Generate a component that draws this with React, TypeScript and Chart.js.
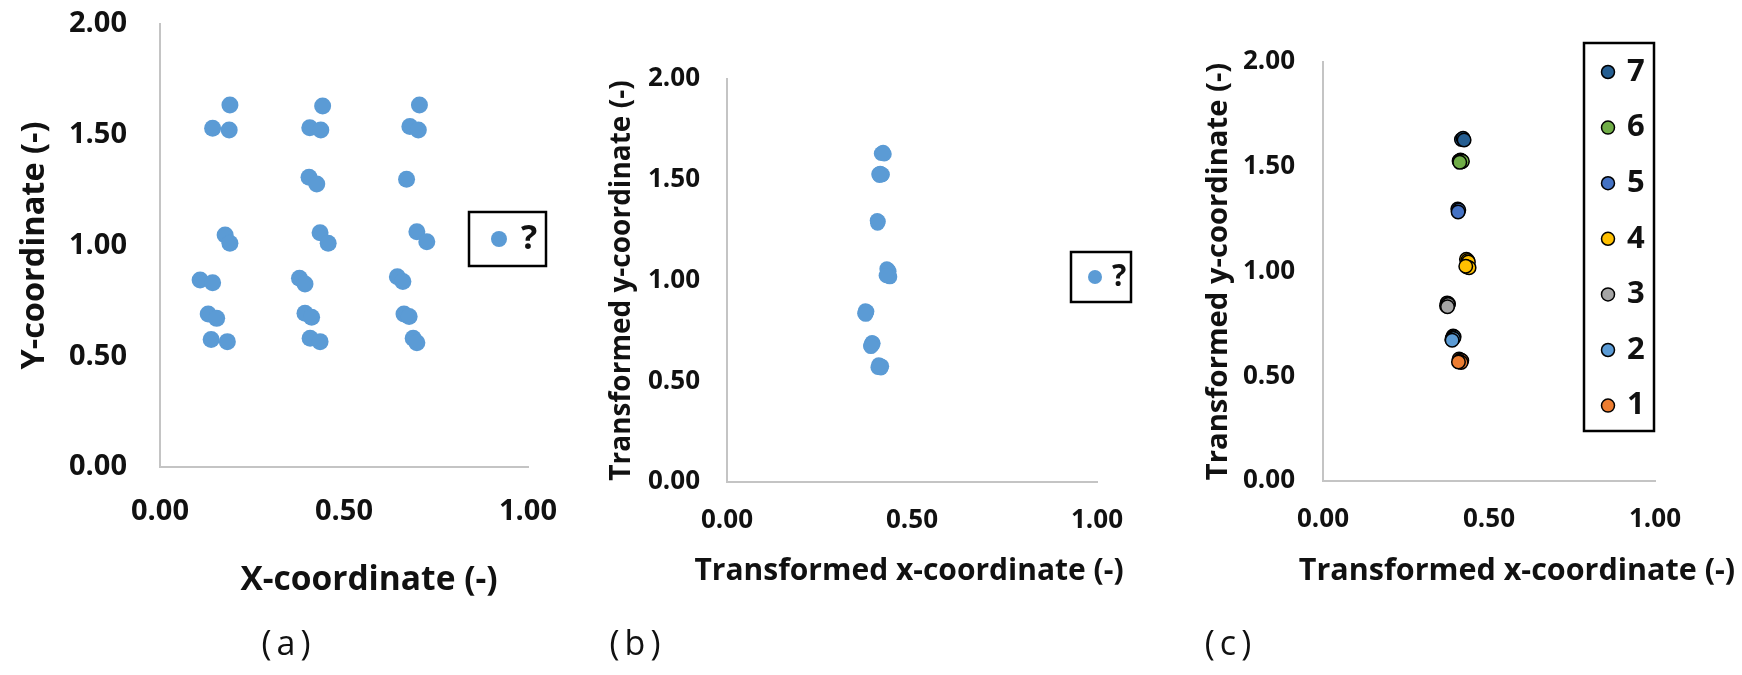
import React, { useEffect, useRef } from 'react';
import { Chart, registerables } from 'chart.js';

Chart.register(...registerables);

const FONT = "'Open Sans', 'DejaVu Sans', sans-serif";
const TICK_FONT = "'Open Sans', 'DejaVu Sans', sans-serif";
const AXIS_COLOR = '#C4C4C4';
const TEXT_COLOR = '#111111';

// ---------- data ----------
const xTickValues = [0, 0.5, 1];
const yTickValues = [0, 0.5, 1, 1.5, 2];

// panel (a): original coordinates
const aLabel = '?';
const aX = [
  0.190, 0.143, 0.188, 0.177, 0.190, 0.109, 0.143, 0.131, 0.154, 0.139, 0.183,
  0.442, 0.407, 0.437, 0.405, 0.426, 0.435, 0.457, 0.379, 0.394, 0.394, 0.412, 0.408, 0.435,
  0.705, 0.679, 0.702, 0.670, 0.698, 0.725, 0.645, 0.660, 0.663, 0.677, 0.688, 0.698,
];
const aY = [
  1.634, 1.529, 1.521, 1.047, 1.010, 0.844, 0.832, 0.691, 0.671, 0.576, 0.566,
  1.630, 1.532, 1.521, 1.308, 1.278, 1.058, 1.010, 0.852, 0.826, 0.694, 0.676, 0.581, 0.566,
  1.634, 1.537, 1.521, 1.299, 1.062, 1.017, 0.859, 0.837, 0.691, 0.679, 0.581, 0.561,
];

// panels (b) and (c): transformed coordinates, grouped 1..7
const groupLabels = ['1', '2', '3', '4', '5', '6', '7'];
const groupColors = ['#ED7D31', '#5B9BD5', '#A5A5A5', '#FFC000', '#4472C4', '#70AD47', '#255E91'];
const g1X = [0.410, 0.414, 0.418, 0.412, 0.416, 0.408];
const g1Y = [0.582, 0.578, 0.575, 0.570, 0.566, 0.568];
const g2X = [0.392, 0.395, 0.390, 0.388, 0.393, 0.389];
const g2Y = [0.692, 0.688, 0.684, 0.676, 0.680, 0.672];
const g3X = [0.374, 0.378, 0.376, 0.372, 0.377, 0.375];
const g3Y = [0.850, 0.846, 0.840, 0.836, 0.842, 0.832];
const g4X = [0.432, 0.436, 0.438, 0.434, 0.440, 0.430];
const g4Y = [1.058, 1.052, 1.045, 1.022, 1.018, 1.025];
const g5X = [0.406, 0.409, 0.407];
const g5Y = [1.298, 1.293, 1.284];
const g6X = [0.410, 0.414, 0.418, 0.416, 0.420, 0.412];
const g6Y = [1.528, 1.532, 1.524, 1.530, 1.526, 1.521];
const g7X = [0.417, 0.422, 0.425];
const g7Y = [1.630, 1.636, 1.628];

const groupXs = [g1X, g2X, g3X, g4X, g5X, g6X, g7X];
const groupYs = [g1Y, g2Y, g3Y, g4Y, g5Y, g6Y, g7Y];

const toPoints = (xs: number[], ys: number[]) => xs.map((x, i) => ({ x, y: ys[i] }));

// ---------- plugins ----------
// boxed legend drawn from the datasets
const boxLegend = {
  id: 'boxLegend',
  afterDraw(chart: any, _args: any, opts: any) {
    if (!opts || !opts.display) return;
    const ctx = chart.ctx as CanvasRenderingContext2D;
    ctx.save();
    ctx.lineWidth = opts.borderWidth;
    ctx.strokeStyle = '#000';
    ctx.strokeRect(opts.left, opts.top, opts.width, opts.height);
    const list = chart.data.datasets.slice();
    if (opts.reverse) list.reverse();
    list.forEach((d: any, k: number) => {
      const y = opts.firstY + k * opts.rowGap;
      ctx.beginPath();
      ctx.arc(opts.markerX, y, opts.markerRadius, 0, Math.PI * 2);
      ctx.fillStyle = d.backgroundColor;
      ctx.fill();
      if (d.borderWidth) {
        ctx.lineWidth = d.borderWidth;
        ctx.strokeStyle = d.borderColor;
        ctx.stroke();
      }
      ctx.fillStyle = TEXT_COLOR;
      ctx.font = `bold ${opts.fontSize}px ${FONT}`;
      ctx.textBaseline = 'middle';
      ctx.textAlign = 'left';
      ctx.fillText(d.label, opts.textX, y + opts.textDy);
    });
    ctx.restore();
  },
};

// x-axis title, centred under the plot with a small horizontal offset (as in the source figure)
const xAxisTitle = {
  id: 'xAxisTitle',
  afterDraw(chart: any, _args: any, opts: any) {
    if (!opts || !opts.text) return;
    const ctx = chart.ctx as CanvasRenderingContext2D;
    const area = chart.chartArea;
    ctx.save();
    ctx.fillStyle = TEXT_COLOR;
    ctx.font = `bold ${opts.size}px ${FONT}`;
    ctx.textAlign = 'center';
    ctx.textBaseline = 'middle';
    ctx.fillText(opts.text, (area.left + area.right) / 2 + opts.dx, opts.y);
    ctx.restore();
  },
};

const clearPadding = (s: any) => {
  s.paddingTop = 0;
  s.paddingBottom = 0;
  s.paddingLeft = 0;
  s.paddingRight = 0;
};

// ---------- scale helpers ----------
function xScale(tickSize: number, tickPad: number, height: number) {
  return {
    type: 'linear',
    position: 'bottom',
    min: 0,
    max: 1,
    afterBuildTicks: (s: any) => {
      s.ticks = xTickValues.map((v) => ({ value: v }));
    },
    afterFit: (s: any) => {
      s.height = height;
      clearPadding(s);
    },
    grid: { display: false, drawTicks: false },
    border: { display: true, color: AXIS_COLOR, width: 2 },
    ticks: {
      autoSkip: false,
      maxRotation: 0,
      padding: tickPad,
      color: TEXT_COLOR,
      font: { family: TICK_FONT, size: tickSize, weight: 'bold' },
      callback: (v: any) => Number(v).toFixed(2),
    },
    title: { display: false },
  };
}

function yScale(tickSize: number, tickPad: number, title: string, titleSize: number, titlePadTop: number, width: number) {
  return {
    type: 'linear',
    position: 'left',
    min: 0,
    max: 2,
    afterBuildTicks: (s: any) => {
      s.ticks = yTickValues.map((v) => ({ value: v }));
    },
    afterFit: (s: any) => {
      s.width = width;
      clearPadding(s);
    },
    grid: { display: false, drawTicks: false },
    border: { display: true, color: AXIS_COLOR, width: 2 },
    ticks: {
      autoSkip: false,
      padding: tickPad,
      color: TEXT_COLOR,
      font: { family: TICK_FONT, size: tickSize, weight: 'bold' },
      callback: (v: any) => Number(v).toFixed(2),
    },
    title: {
      display: true,
      text: title,
      color: TEXT_COLOR,
      font: { family: FONT, size: titleSize, weight: 'bold' },
      padding: { top: titlePadTop, bottom: 0 },
    },
  };
}

function baseOptions(padding: any, scales: any, legendOpts: any, xTitleOpts: any) {
  return {
    responsive: false,
    animation: false,
    devicePixelRatio: 1,
    layout: { padding },
    plugins: {
      legend: { display: false },
      tooltip: { enabled: false },
      boxLegend: legendOpts,
      xAxisTitle: xTitleOpts,
    },
    scales,
  };
}

// ---------- configs ----------
const configA = () => ({
  type: 'scatter',
  data: {
    datasets: [
      {
        label: aLabel,
        data: toPoints(aX, aY),
        backgroundColor: '#5B9BD5',
        borderWidth: 0,
        pointRadius: 8.5,
      },
    ],
  },
  options: baseOptions(
    { left: 10, right: 52, top: 24, bottom: 0 },
    {
      x: xScale(29, 27.6, 153),
      y: yScale(29, 33, 'Y-coordinate (-)', 32.5, 5.5, 150),
    },
    {
      display: true, left: 469, top: 212, width: 77, height: 54, borderWidth: 2.5,
      markerX: 499, markerRadius: 8, firstY: 239, rowGap: 0, textX: 521, textDy: 0, fontSize: 34,
    },
    { text: 'X-coordinate (-)', size: 33.5, dx: 25, y: 580 }
  ),
  plugins: [boxLegend, xAxisTitle],
});

const configB = () => ({
  type: 'scatter',
  data: {
    datasets: [
      {
        label: aLabel,
        data: groupXs.flatMap((xs, g) => toPoints(xs, groupYs[g])),
        backgroundColor: '#5B9BD5',
        borderWidth: 0,
        pointRadius: 7.5,
      },
    ],
  },
  options: baseOptions(
    { left: 10, right: 63, top: 79, bottom: 0 },
    {
      x: xScale(26, 23.4, 138),
      y: yScale(26, 27, 'Transformed y-coordinate (-)', 28, 15.2, 137),
    },
    {
      display: true, left: 491, top: 252, width: 60, height: 50, borderWidth: 2.5,
      markerX: 515, markerRadius: 7, firstY: 277, rowGap: 0, textX: 532, textDy: 0, fontSize: 30,
    },
    { text: 'Transformed x-coordinate (-)', size: 30, dx: -3, y: 571 }
  ),
  plugins: [boxLegend, xAxisTitle],
});

const configC = () => ({
  type: 'scatter',
  data: {
    datasets: groupLabels.map((label, g) => ({
      label,
      data: toPoints(groupXs[g], groupYs[g]),
      backgroundColor: groupColors[g],
      borderColor: '#000000',
      borderWidth: 1.5,
      pointRadius: 6.75,
    })),
  },
  options: baseOptions(
    { left: 10, right: 87, top: 62, bottom: 0 },
    {
      x: xScale(26, 23.4, 139),
      y: yScale(26, 28, 'Transformed y-coordinate (-)', 29.2, 31.5, 153),
    },
    {
      display: true, reverse: true, left: 424, top: 43, width: 70, height: 388, borderWidth: 2.5,
      markerX: 448, markerRadius: 6.5, firstY: 72, rowGap: 55.6, textX: 467, textDy: 0, fontSize: 31,
    },
    { text: 'Transformed x-coordinate (-)', size: 30.5, dx: 28, y: 571 }
  ),
  plugins: [boxLegend, xAxisTitle],
});

function Panel({ makeConfig, left, width, height }: { makeConfig: () => any; left: number; width: number; height: number }) {
  const ref = useRef<HTMLCanvasElement | null>(null);
  useEffect(() => {
    if (!ref.current) return;
    const chart = new Chart(ref.current, makeConfig());
    return () => chart.destroy();
  }, [makeConfig]);
  return (
    <canvas
      ref={ref}
      width={width}
      height={height}
      style={{ position: 'absolute', left, top: 0, width, height, display: 'block' }}
    />
  );
}

function Caption({ text, cx }: { text: string; cx: number }) {
  return (
    <div
      style={{
        position: 'absolute',
        left: cx - 60,
        top: 620,
        width: 120,
        textAlign: 'center',
        fontFamily: FONT,
        fontSize: 34,
        lineHeight: '44px',
        letterSpacing: '5px',
        paddingLeft: 5,
        boxSizing: 'border-box',
        color: TEXT_COLOR,
      }}
    >
      {text}
    </div>
  );
}

export default function App() {
  return (
    <div style={{ position: 'absolute', left: 0, top: 0, width: 1742, height: 675, background: '#fff', overflow: 'hidden' }}>
      <Panel makeConfig={configA} left={0} width={580} height={620} />
      <Panel makeConfig={configB} left={580} width={580} height={620} />
      <Panel makeConfig={configC} left={1160} width={582} height={620} />
      <Caption text="(a)" cx={286} />
      <Caption text="(b)" cx={635} />
      <Caption text="(c)" cx={1228} />
    </div>
  );
}
